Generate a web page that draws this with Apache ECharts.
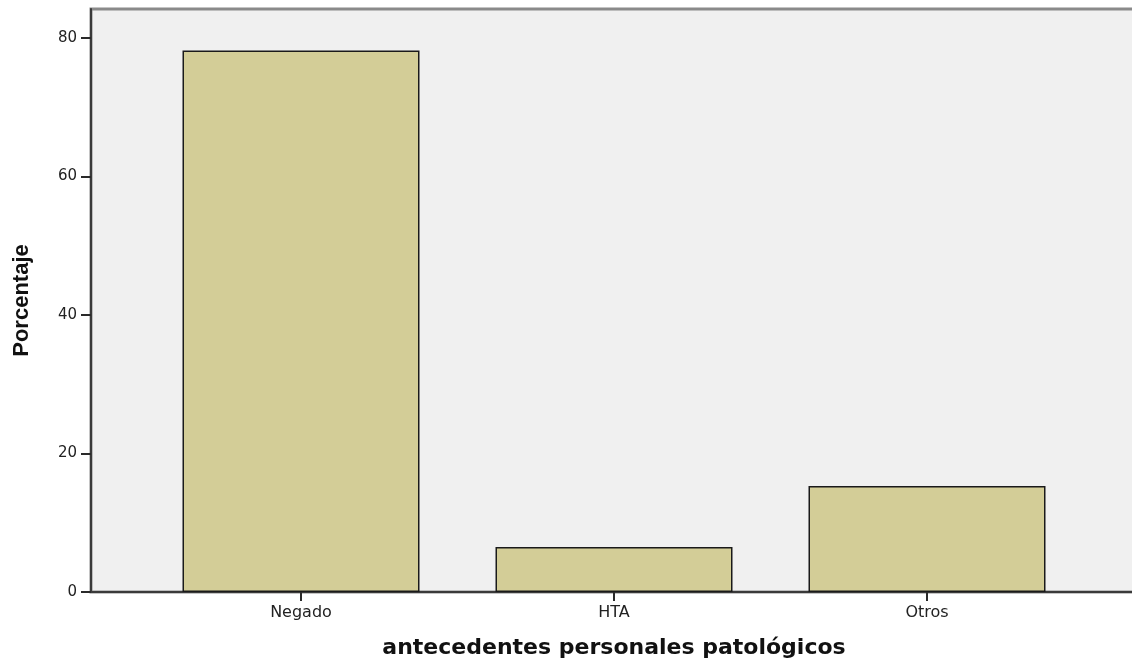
<!DOCTYPE html>
<html>
<head>
<meta charset="utf-8">
<title>antecedentes personales patológicos</title>
<script src="https://cdn.jsdelivr.net/npm/echarts@6/dist/echarts.min.js"></script>
<style>
    html, body { margin: 0; padding: 0; background: #fff; }
    #chart { width: 1132px; height: 660px; }
</style>
</head>
<body>
<div id="chart"></div>
<script>
// datos
var categorias = ['Negado', 'HTA', 'Otros'];
var porcentajes = [78.2, 6.5, 15.3];
var ejeYTicks = [0, 20, 40, 60, 80];

var myChart = echarts.init(document.getElementById('chart'));

var option = {
    animation: false,
    backgroundColor: '#ffffff',
    grid: [
        // marco completo (fondo gris + ejes)
        {
            left: 91, top: 9, width: 1046, height: 583,
            outerBoundsMode: 'none',
            show: true,
            backgroundColor: '#f0f0f0',
            borderColor: '#8a8a8a',
            borderWidth: 3
        },
        // zona de las barras
        {
            left: 144.5, top: 9, width: 939, height: 583,
            outerBoundsMode: 'none',
            show: false
        }
    ],
    xAxis: [
        {
            gridIndex: 0,
            type: 'value',
            min: 0, max: 1,
            axisLine: { show: true, lineStyle: { color: '#3a3a3a', width: 2 } },
            axisTick: { show: false },
            axisLabel: { show: false },
            splitLine: { show: false }
        },
        {
            gridIndex: 1,
            type: 'category',
            data: categorias,
            axisLine: { show: false },
            axisTick: { show: true, alignWithLabel: true, length: 9, lineStyle: { color: '#2a2a2a', width: 2 } },
            axisLabel: { color: '#222', fontSize: 16, fontFamily: 'DejaVu Sans', margin: 13 },
            name: 'antecedentes personales patológicos',
            nameLocation: 'middle',
            nameGap: 45,
            nameTextStyle: { color: '#111', fontSize: 22, fontWeight: 'bold', fontFamily: 'DejaVu Sans' }
        }
    ],
    yAxis: [
        {
            gridIndex: 0,
            type: 'value',
            min: 0, max: 84.19,
            interval: 20,
            axisLine: { show: true, lineStyle: { color: '#3a3a3a', width: 2 } },
            axisTick: { show: true, length: 10, customValues: ejeYTicks, lineStyle: { color: '#2a2a2a', width: 2 } },
            axisLabel: {
                color: '#222', fontSize: 15, fontFamily: 'DejaVu Sans', margin: 14,
                customValues: ejeYTicks
            },
            splitLine: { show: false },
            name: 'Porcentaje',
            nameLocation: 'middle',
            nameGap: 58,
            nameTextStyle: { color: '#111', fontSize: 22, fontWeight: 'bold', fontFamily: 'Liberation Sans' }
        },
        {
            gridIndex: 1,
            type: 'value',
            min: 0, max: 84.19,
            show: false
        }
    ],
    series: [{
        name: 'Porcentaje',
        type: 'bar',
        xAxisIndex: 1,
        yAxisIndex: 1,
        data: porcentajes,
        barWidth: 237,
        itemStyle: {
            color: '#d3cd97',
            borderColor: '#1a1a1a',
            borderWidth: 1.5
        }
    }]
};

myChart.setOption(option);
</script>
</body>
</html>
